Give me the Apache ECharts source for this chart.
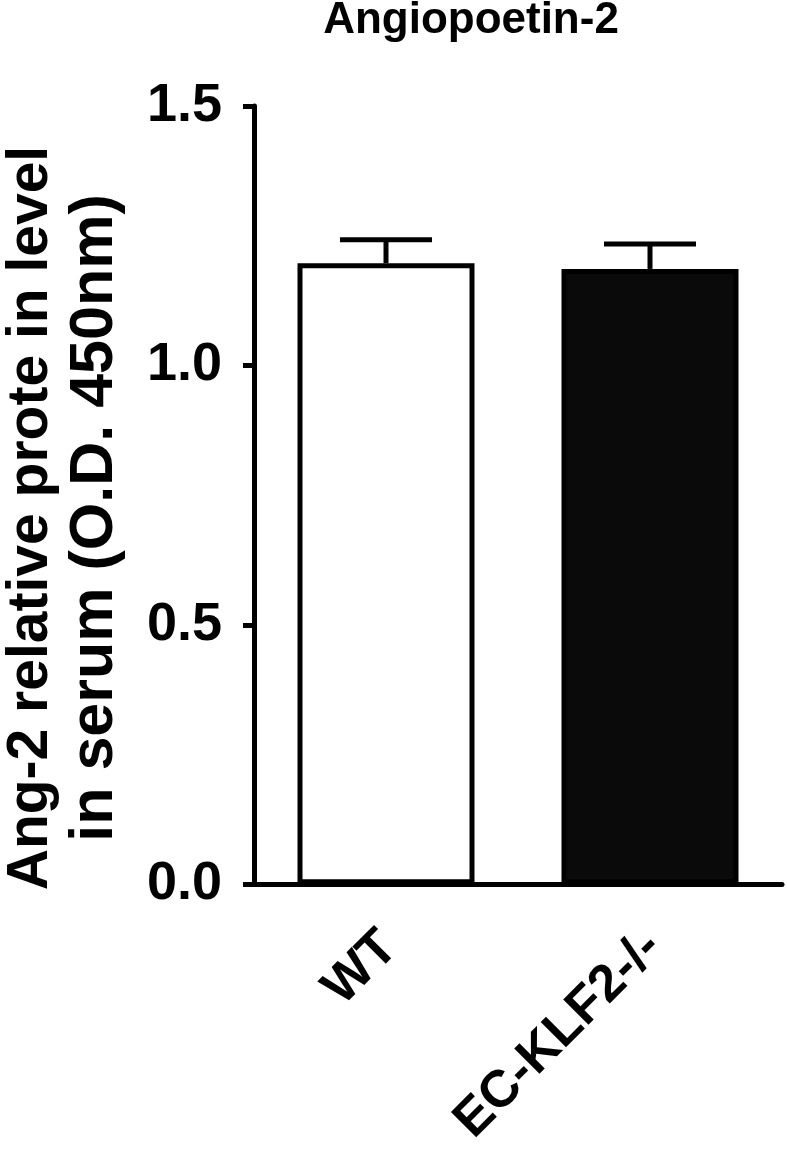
<!DOCTYPE html>
<html>
<head>
<meta charset="utf-8">
<script src="https://cdn.jsdelivr.net/npm/echarts@6/dist/echarts.min.js"></script>
<style>
  html, body { margin: 0; padding: 0; background: #fff; }
  #chart { width: 787px; height: 1150px; }
</style>
</head>
<body>
<div id="chart"></div>
<script>
// ---- data ----
const categories = ['WT', 'EC-KLF2-/-'];
const means = [1.197, 1.186];
const sems = [0.045, 0.048];
const fills = ['#ffffff', '#0a0a0a'];
const yMin = 0, yMax = 1.5, yStep = 0.5;
const chartTitle = 'Angiopoetin-2';
const yTitleLines = ['Ang-2 relative prote in level', 'in serum (O.D. 450nm)'];

const FONT = '"Liberation Sans", Arial, Helvetica, sans-serif';
const chart = echarts.init(document.getElementById('chart'), null, { renderer: 'canvas' });

const errData = categories.map((c, i) => [i, means[i], means[i] + sems[i]]);

const option = {
  backgroundColor: '#ffffff',
  animation: false,
  title: {
    text: chartTitle,
    left: 466,
    top: -6,
    textAlign: 'center',
    textStyle: { fontFamily: FONT, fontWeight: 'bold', fontSize: 44, color: '#000' }
  },
  grid: { left: 254, right: 5, top: 106, bottom: 256, containLabel: false },
  xAxis: {
    type: 'category',
    data: categories,
    axisLine: { show: true, lineStyle: { color: '#000', width: 5 } },
    axisTick: { show: false },
    axisLabel: {
      rotate: 45,
      interval: 0,
      margin: 22,
      padding: [0, 21, 0, 0],
      verticalAlign: 'top',
      color: '#000',
      fontFamily: FONT,
      fontWeight: 'bold',
      fontSize: 52
    },
    splitLine: { show: false }
  },
  yAxis: {
    type: 'value',
    min: yMin,
    max: yMax,
    interval: yStep,
    axisLine: { show: true, lineStyle: { color: '#000', width: 5 } },
    axisTick: { show: true, inside: false, length: 11, lineStyle: { color: '#000', width: 5 } },
    axisLabel: {
      margin: 32,
      color: '#000',
      fontFamily: FONT,
      fontWeight: 'bold',
      fontSize: 54,
      formatter: v => v.toFixed(1)
    },
    splitLine: { show: false }
  },
  graphic: [{
    type: 'text',
    x: 63,
    y: 518,
    rotation: Math.PI / 2,
    style: {
      text: '{a|' + yTitleLines[0] + '}\n{b|' + yTitleLines[1] + '}',
      fontFamily: FONT,
      fontWeight: 'bold',
      fill: '#000',
      align: 'center',
      verticalAlign: 'middle',
      rich: {
        a: { fontFamily: FONT, fontWeight: 'bold', fontSize: 57, lineHeight: 64, fill: '#000' },
        b: { fontFamily: FONT, fontWeight: 'bold', fontSize: 61, lineHeight: 64, fill: '#000' }
      }
    }
  }],
  series: [
    {
      type: 'bar',
      data: means.map((v, i) => ({
        value: v,
        itemStyle: { color: fills[i], borderColor: '#000', borderWidth: 5 }
      })),
      barWidth: 177,
      z: 2
    },
    {
      type: 'custom',
      data: errData,
      z: 3,
      renderItem: function (params, api) {
        const base = api.coord([api.value(0), api.value(1)]);
        const top = api.coord([api.value(0), api.value(2)]);
        const half = 46;
        const st = { stroke: '#000', lineWidth: 5, lineCap: 'butt' };
        return {
          type: 'group',
          children: [
            { type: 'line', shape: { x1: base[0], y1: base[1], x2: top[0], y2: top[1] }, style: st },
            { type: 'line', shape: { x1: top[0] - half, y1: top[1], x2: top[0] + half, y2: top[1] }, style: st }
          ]
        };
      }
    }
  ]
};
chart.setOption(option);
</script>
</body>
</html>
